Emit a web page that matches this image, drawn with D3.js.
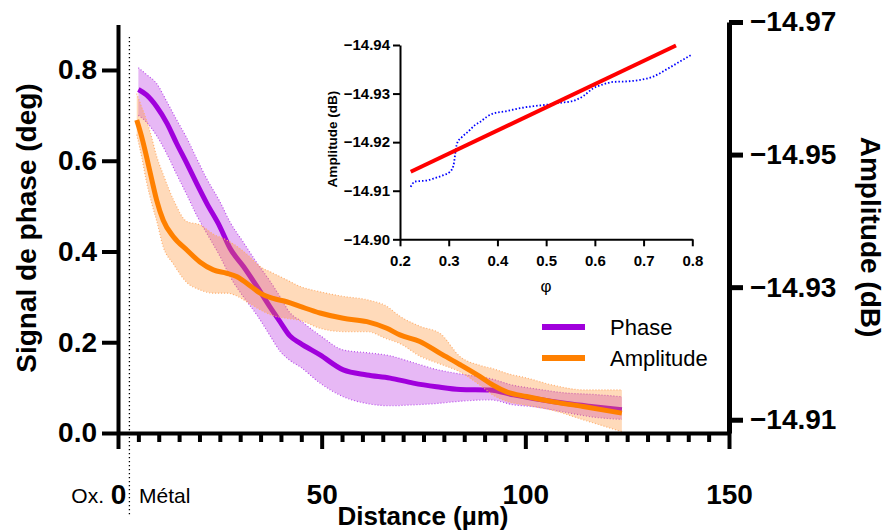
<!DOCTYPE html>
<html><head><meta charset="utf-8">
<script src="https://cdn.jsdelivr.net/npm/d3@7"></script>
<style>
body{margin:0;background:#fff}
svg{display:block}
text{font-family:Arial,"Liberation Sans",sans-serif}
</style>
</head><body>
<svg id="c" width="887" height="531"></svg>
<script>
// ---------- data ----------
const distPhase = [5.0,7.0,9.5,12.0,14.4,16.9,19.3,21.8,25.0,27.5,30.8,34.1,37.3,39.8,42.2,44.7,49.6,55.3,61.1,66.8,72.5,78.2,84.0,91.3,97.1,102.0,110.2,116.7,123.7];
const phase   = [0.757,0.745,0.719,0.683,0.638,0.594,0.550,0.506,0.455,0.407,0.367,0.323,0.278,0.245,0.214,0.198,0.172,0.139,0.128,0.121,0.110,0.102,0.096,0.095,0.084,0.076,0.065,0.058,0.051];
const phaseHi = [0.805,0.790,0.770,0.730,0.690,0.650,0.605,0.560,0.510,0.465,0.420,0.375,0.335,0.300,0.265,0.248,0.215,0.183,0.177,0.170,0.155,0.140,0.130,0.120,0.105,0.098,0.088,0.085,0.080];
const phaseLo = [0.700,0.685,0.655,0.615,0.570,0.525,0.480,0.440,0.390,0.345,0.300,0.260,0.215,0.180,0.160,0.146,0.110,0.080,0.065,0.060,0.062,0.065,0.070,0.073,0.062,0.058,0.045,0.035,0.030];

const distAmp = [4.6,5.8,7.0,8.3,9.5,11.1,13.6,16.9,20.1,23.4,26.7,29.1,31.6,34.9,38.1,41.4,44.7,49.6,55.3,61.1,66.0,69.2,74.1,79.1,84.0,88.9,92.1,95.4,100.3,106.9,114.2,123.7];
const amp   = [-14.9552,-14.9527,-14.9497,-14.9462,-14.9431,-14.9401,-14.9376,-14.9356,-14.9338,-14.9326,-14.9321,-14.9316,-14.9306,-14.9291,-14.9283,-14.9278,-14.9271,-14.9261,-14.9253,-14.9248,-14.9238,-14.9228,-14.9218,-14.9200,-14.9183,-14.9165,-14.9152,-14.9142,-14.9135,-14.9127,-14.9120,-14.9110];
const ampHi = [-14.9592,-14.9572,-14.9552,-14.9525,-14.9497,-14.9470,-14.9432,-14.9399,-14.9394,-14.9380,-14.9371,-14.9362,-14.9350,-14.9331,-14.9321,-14.9311,-14.9301,-14.9293,-14.9286,-14.9281,-14.9271,-14.9256,-14.9241,-14.9230,-14.9195,-14.9182,-14.9177,-14.9170,-14.9163,-14.9152,-14.9145,-14.9145];
const ampLo = [-14.9530,-14.9497,-14.9459,-14.9426,-14.9400,-14.9361,-14.9335,-14.9307,-14.9296,-14.9291,-14.9291,-14.9287,-14.9278,-14.9266,-14.9257,-14.9253,-14.9250,-14.9238,-14.9233,-14.9233,-14.9222,-14.9215,-14.9196,-14.9184,-14.9172,-14.9152,-14.9137,-14.9128,-14.9122,-14.9114,-14.9100,-14.9082];

const xMajorTicks = [0,50,100,150];
const yLeftTicks = [0,0.2,0.4,0.6,0.8];
const yRightTicks = [-14.97,-14.95,-14.93,-14.91];
const interfaceX = 2.8;
const seriesNames = ["Phase","Amplitude"];

// inset
const phiX = [0.2219,0.2308,0.2547,0.2684,0.2889,0.3026,0.3095,0.3122,0.3143,0.3177,0.3266,0.3403,0.3539,0.3676,0.3779,0.3916,0.4189,0.4463,0.4737,0.5010,0.5284,0.5558,0.5763,0.5968,0.6173,0.6379,0.6653,0.6926,0.7200,0.7474,0.7747,0.7966];
const ampInset = [-14.9108,-14.9119,-14.9121,-14.9125,-14.9132,-14.9139,-14.9151,-14.9167,-14.9184,-14.9199,-14.9210,-14.9222,-14.9235,-14.9244,-14.9252,-14.9259,-14.9264,-14.9270,-14.9274,-14.9277,-14.9281,-14.9285,-14.9295,-14.9311,-14.9319,-14.9324,-14.9325,-14.9328,-14.9335,-14.9350,-14.9366,-14.9379];
const fitX = [0.222,0.7665];
const fitY = [-14.9139,-14.9399];
const insetXTicks = [0.2,0.3,0.4,0.5,0.6,0.7,0.8];
const insetYTicks = [-14.94,-14.93,-14.92,-14.91,-14.90];

// ---------- styles ----------
const PURPLE = "rgb(160,0,220)";
const ORANGE = "rgb(255,128,0)";
const FONT = "Arial, 'Liberation Sans', sans-serif";

const svg = d3.select("#c");
const x  = d3.scaleLinear().domain([0,150]).range([118,729]);
const yL = d3.scaleLinear().domain([0,0.9]).range([433,24.6]);
const yR = d3.scaleLinear().domain([-14.908,-14.97]).range([433,22]);

// interface dotted line
svg.append("line")
  .attr("x1",x(interfaceX)).attr("x2",x(interfaceX))
  .attr("y1",37).attr("y2",515)
  .attr("stroke","#000").attr("stroke-width",1.3)
  .attr("stroke-dasharray","1.3,2.7");

const curve = d3.curveMonotoneX;
const ph = distPhase.map((d,i)=>({d, v:phase[i], hi:phaseHi[i], lo:phaseLo[i]}));
const am = distAmp.map((d,i)=>({d, v:amp[i], hi:ampHi[i], lo:ampLo[i]}));

// phase band
svg.append("path").datum(ph)
  .attr("d", d3.area().curve(curve).x(p=>x(p.d)).y0(p=>yL(p.lo)).y1(p=>yL(p.hi)))
  .attr("fill","rgb(170,0,220)").attr("fill-opacity",0.28);
["hi","lo"].forEach(k=>{
  svg.append("path").datum(ph)
    .attr("d", d3.line().curve(curve).x(p=>x(p.d)).y(p=>yL(p[k])))
    .attr("fill","none").attr("stroke","rgb(185,80,235)").attr("stroke-width",1.2)
    .attr("stroke-dasharray","1,2");
});
svg.append("path").datum(ph)
  .attr("d", d3.line().curve(curve).x(p=>x(p.d)).y(p=>yL(p.v)))
  .attr("fill","none").attr("stroke",PURPLE).attr("stroke-width",5);

// amplitude band
svg.append("path").datum(am)
  .attr("d", d3.area().curve(curve).x(p=>x(p.d)).y0(p=>yR(p.lo)).y1(p=>yR(p.hi)))
  .attr("fill","rgb(255,140,40)").attr("fill-opacity",0.32);
["hi","lo"].forEach(k=>{
  svg.append("path").datum(am)
    .attr("d", d3.line().curve(curve).x(p=>x(p.d)).y(p=>yR(p[k])))
    .attr("fill","none").attr("stroke","rgb(255,175,110)").attr("stroke-width",1.2)
    .attr("stroke-dasharray","1,2");
});
svg.append("path").datum(am)
  .attr("d", d3.line().curve(curve).x(p=>x(p.d)).y(p=>yR(p.v)))
  .attr("fill","none").attr("stroke",ORANGE).attr("stroke-width",5);

// ---------- axes ----------
function styleAxis(g, w, fs, weight){
  g.attr("font-family",FONT).attr("font-size",fs).attr("font-weight",weight||"bold");
  g.select(".domain").attr("stroke-width",w).attr("stroke","#000");
  g.selectAll(".tick line").attr("stroke-width",w).attr("stroke","#000");
  g.selectAll(".tick text").attr("fill","#000");
}
// x minor
const gxm = svg.append("g").attr("transform","translate(0,433)")
  .call(d3.axisBottom(x).tickValues(d3.range(5,150,5).filter(v=>v%50!==0)).tickSize(9).tickSizeOuter(0).tickFormat(""));
styleAxis(gxm,4,10);
gxm.select(".domain").remove();
// x major
const gx = svg.append("g").attr("transform","translate(0,433)")
  .call(d3.axisBottom(x).tickValues(xMajorTicks).tickSize(16).tickSizeOuter(0).tickPadding(35).tickFormat(d3.format("d")));
styleAxis(gx,4,28);
// left
const gl = svg.append("g").attr("transform","translate(118,0)")
  .call(d3.axisLeft(yL).tickValues(yLeftTicks).tickSize(16).tickSizeOuter(0).tickPadding(5).tickFormat(d3.format(".1f")));
styleAxis(gl,4,28);
// right
const gr = svg.append("g").attr("transform","translate(729,0)")
  .call(d3.axisRight(yR).tickValues(yRightTicks).tickSize(14).tickSizeOuter(0).tickPadding(7).tickFormat(d3.format(".2f")));
styleAxis(gr,5,28);

// axis titles
svg.append("text").attr("transform","translate(36,228) rotate(-90)")
  .attr("text-anchor","middle").attr("font-size",28).attr("font-weight","bold")
  .text("Signal de phase (deg)");
svg.append("text").attr("transform","translate(861,237) rotate(90)")
  .attr("text-anchor","middle").attr("font-size",28).attr("font-weight","bold")
  .text("Amplitude (dB)");
svg.append("text").attr("x",423).attr("y",525)
  .attr("text-anchor","middle").attr("font-size",26).attr("font-weight","bold")
  .text("Distance (µm)");
svg.append("text").attr("x",104).attr("y",503).attr("text-anchor","end")
  .attr("font-size",21).text("Ox.");
svg.append("text").attr("x",139).attr("y",503).attr("text-anchor","start")
  .attr("font-size",21).text("Métal");

// legend
const leg = [{n:seriesNames[0],c:PURPLE,y:327},{n:seriesNames[1],c:ORANGE,y:358}];
leg.forEach(l=>{
  svg.append("line").attr("x1",542).attr("x2",585).attr("y1",l.y).attr("y2",l.y)
    .attr("stroke",l.c).attr("stroke-width",6);
  svg.append("text").attr("x",610).attr("y",l.y+8).attr("font-size",22).text(l.n);
});

// ---------- inset ----------
const xi = d3.scaleLinear().domain([0.2,0.8]).range([400,692.3]);
const yi = d3.scaleLinear().domain([-14.94,-14.90]).range([45,239.3]);

svg.append("path").datum(phiX.map((p,i)=>[p,ampInset[i]]))
  .attr("d", d3.line().curve(d3.curveMonotoneX).x(p=>xi(p[0])).y(p=>yi(p[1])))
  .attr("fill","none").attr("stroke","#0000FF").attr("stroke-width",1.8)
  .attr("stroke-dasharray","1.5,2");
svg.append("path").datum(fitX.map((p,i)=>[p,fitY[i]]))
  .attr("d", d3.line().x(p=>xi(p[0])).y(p=>yi(p[1])))
  .attr("fill","none").attr("stroke","#FF0000").attr("stroke-width",4);

const gix = svg.append("g").attr("transform","translate(0,239.3)")
  .call(d3.axisBottom(xi).tickValues(insetXTicks).tickSize(7).tickSizeOuter(0).tickPadding(9).tickFormat(d3.format(".1f")));
styleAxis(gix,2,15);
const giy = svg.append("g").attr("transform","translate(400,0)")
  .call(d3.axisLeft(yi).tickValues(insetYTicks).tickSize(7).tickSizeOuter(0).tickPadding(3).tickFormat(d3.format(".2f")));
styleAxis(giy,2,15);

svg.append("text").attr("transform","translate(337,139) rotate(-90)")
  .attr("text-anchor","middle").attr("font-size",13.5).attr("font-weight","bold")
  .text("Amplitude (dB)");
svg.append("text").attr("x",546).attr("y",292).attr("text-anchor","middle")
  .attr("font-size",17).text("φ");
</script>
</body></html>
